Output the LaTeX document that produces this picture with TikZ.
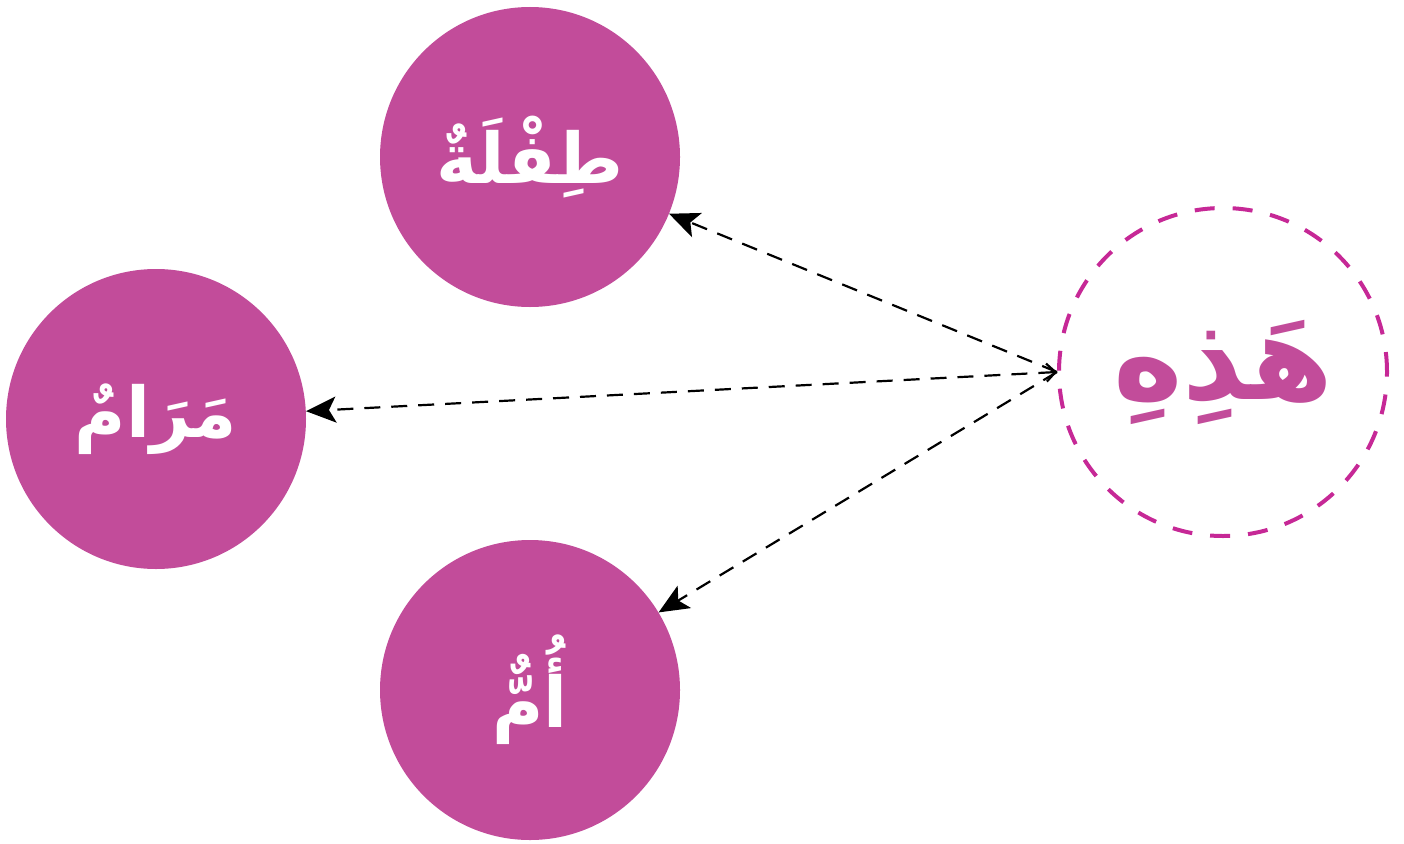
\documentclass[tikz,border=0pt]{standalone}
\usepackage{fontspec}
\TeXXeTstate=1
\newfontfamily\arabicfont[Script=Arabic]{DejaVu Sans}
\usetikzlibrary{arrows.meta}
\definecolor{nodefill}{RGB}{194,76,154}
\definecolor{dashcol}{RGB}{198,40,150}
\begin{document}
\begin{tikzpicture}[x=1pt,y=-1pt,
  word/.style={circle,fill=nodefill,draw=none,minimum size=300pt,inner sep=0pt,text=white,font=\arabicfont\bfseries\fontsize{70}{80}\selectfont},
  focus/.style={circle,draw=dashcol,line width=4pt,dash pattern=on 20pt off 18pt,minimum size=328pt,inner sep=0pt,text=nodefill,font=\arabicfont\bfseries\fontsize{118}{130}\selectfont},
  edge/.style={draw=black,line width=2.2pt,dash pattern=on 16pt off 11pt,-{Stealth[length=30pt,width=26pt,inset=7pt]}},
  bothedge/.style={edge,{Straight Barb[length=9pt,width=18pt,line width=2.2pt]}-{Stealth[length=30pt,width=26pt,inset=7pt]}}]
\useasboundingbox (0,0) rectangle (1404,843);
\node[word] (tifla) at (530,157) {\beginR طِفْلَةٌ\endR};
\node[word] (maram) at (156,419) {\beginR مَرَامٌ\endR};
\node[word] (umm) at (530,690) {\beginR أُمٌّ\endR};
\node[focus] (hadhihi) at (1223,372) {\beginR هَذِهِ\endR};
\coordinate (src) at (hadhihi.west);
\draw[edge] (src) -- (tifla);
\draw[bothedge] (src) -- (maram);
\draw[edge] (src) -- (umm);
\end{tikzpicture}
\end{document}
